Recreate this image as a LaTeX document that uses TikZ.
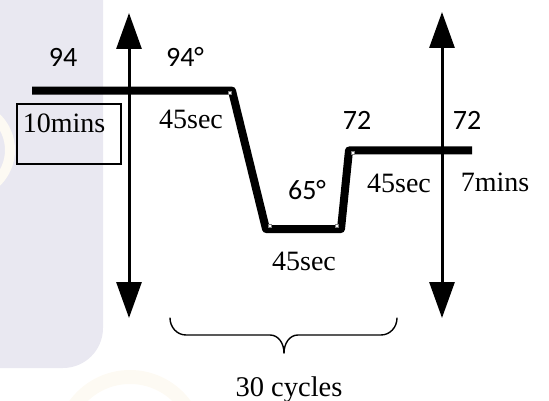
\documentclass[tikz,border=0pt]{standalone}
\usepackage{fontspec}
\setmainfont{Liberation Serif}
\newfontfamily\calib{Carlito}
\usetikzlibrary{arrows.meta}
\definecolor{lav}{HTML}{E9E8F1}
\definecolor{wmy}{HTML}{FDFAF3}
\tikzset{
  serif/.style={font=\fontsize{28}{30}\selectfont, inner sep=0pt, anchor=base},
  sans/.style={font=\calib\fontsize{28}{30}\selectfont, inner sep=0pt, anchor=base},
  bigarrow/.style={line width=3pt, {Triangle[length=36pt,width=25pt]}-{Triangle[length=36pt,width=25pt]}},
  profile/.style={line width=8pt, line join=round},
  marker/.style={fill=white, draw=gray, line width=0.4pt},
  bracestyle/.style={line width=1.4pt, line cap=round}
}
\begin{document}
\begin{tikzpicture}[x=1pt,y=-1pt]
\useasboundingbox (0,0) rectangle (549,401);
% faint watermark background
\fill[lav, rounded corners=40pt] (-40,-40) rectangle (103,368);
\draw[wmy, line width=14pt] (130,445) circle[radius=68];
\draw[wmy, line width=10pt] (-35,150) circle[radius=45];
% coordinates
\coordinate (la1) at (129,13);
\coordinate (la2) at (129,318);
\coordinate (ra1) at (442,12);
\coordinate (ra2) at (442,318);
\coordinate (p0) at (32,90.7);
\coordinate (p1) at (232,90.7);
\coordinate (p2) at (266,229);
\coordinate (p3) at (341,229);
\coordinate (p4) at (349,150.5);
\coordinate (p5) at (472,150.5);
% vertical double arrows
\draw[bigarrow] (la1) -- (la2);
\draw[bigarrow] (ra1) -- (ra2);
% temperature profile
\draw[profile] (p0) -- (p1) -- (p2) -- (p3) -- (p4) -- (p5);
% tiny corner markers
\foreach \mx/\my in {230/93, 270/226, 337/226, 353/153}
  \filldraw[marker] (\mx-1.6,\my-1.6) rectangle (\mx+1.6,\my+1.6);
% box around 10mins
\node[draw, line width=1.3pt, minimum width=104pt, minimum height=60pt, inner sep=0pt] (box) at (69,134) {};
% labels
\node[sans] (t94) at (63,67) {94};
\node[sans] (t94d) at (185,67) {94°};
\node[serif] (t10) at (64,133) {10mins};
\node[serif] (s1) at (191,129) {45sec};
\node[sans] (t72a) at (357,130) {72};
\node[sans] (t72b) at (467,130) {72};
\node[sans] (t65) at (307,200) {65°};
\node[serif] (s2) at (399,193) {45sec};
\node[serif] (t7) at (495,192) {7mins};
\node[serif] (s3) at (304,270) {45sec};
% brace
\coordinate (bl) at (170,318);
\coordinate (br) at (397,318);
\coordinate (bt) at (284,353);
\draw[bracestyle] (bl) to[out=-90,in=180] (186,335) -- (270,335) to[out=0,in=90] (bt);
\draw[bracestyle] (bt) to[out=90,in=180] (298,335) -- (381,335) to[out=0,in=-90] (br);
\node[serif, font=\fontsize{28.5}{30}\selectfont] (cyc) at (289,396) {30 cycles};
\end{tikzpicture}
\end{document}
